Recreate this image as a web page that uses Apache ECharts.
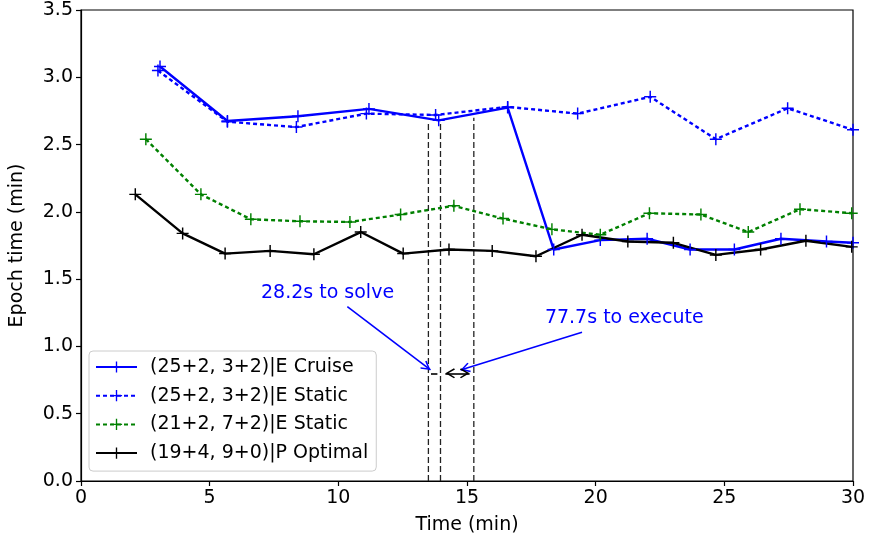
<!DOCTYPE html>
<html>
<head>
<meta charset="utf-8">
<script src="https://cdn.jsdelivr.net/npm/echarts@6/dist/echarts.min.js"></script>
<style>
  html, body { margin: 0; padding: 0; background: #fff; }
  #chart { width: 870px; height: 543px; }
</style>
</head>
<body>
<div id="chart"></div>
<script>
// values
const cruiseX = [3.07, 5.69, 8.43, 11.19, 13.9, 16.58, 18.37, 20.18, 22.0, 23.67, 25.39, 27.2, 28.97, 30.0];
const cruiseY = [3.08, 2.675, 2.71, 2.765, 2.68, 2.775, 1.72, 1.79, 1.80, 1.72, 1.72, 1.80, 1.78, 1.77];

const staticX = [2.99, 5.69, 8.37, 11.09, 13.78, 16.58, 19.3, 22.12, 24.67, 27.46, 30.0];
const staticY = [3.05, 2.67, 2.63, 2.73, 2.72, 2.78, 2.73, 2.855, 2.54, 2.77, 2.61];

const greenX = [2.52, 4.66, 6.6, 8.51, 10.45, 12.42, 14.49, 16.4, 18.3, 20.18, 22.09, 24.09, 25.93, 27.94, 29.95];
const greenY = [2.54, 2.13, 1.945, 1.93, 1.925, 1.98, 2.045, 1.95, 1.87, 1.83, 1.99, 1.98, 1.85, 2.02, 1.99];

const optimalX = [2.11, 3.95, 5.6, 7.35, 9.05, 10.87, 12.52, 14.3, 15.98, 17.68, 19.47, 21.25, 23.02, 24.67, 26.41, 28.17, 29.95];
const optimalY = [2.13, 1.84, 1.69, 1.71, 1.685, 1.85, 1.69, 1.72, 1.71, 1.67, 1.83, 1.78, 1.77, 1.68, 1.72, 1.785, 1.74];

const seriesNames = ['(25+2, 3+2)|E Cruise', '(25+2, 3+2)|E Static', '(21+2, 7+2)|E Static', '(19+4, 9+0)|P Optimal'];

// reconfiguration timing: solve 28.2 s, execute 77.7 s (in minutes)
const eventX = [13.5, 13.97, 15.265];
const eventTop = [2.66, 2.66, 2.70];
const arrowY = 0.8;
const solveText = '28.2s to solve';
const solveTextPos = [9.58, 1.40];
const solveArrowFrom = [10.35, 1.295];
const solveArrowTo = [13.58, 0.825];
const executeText = '77.7s to execute';
const executeTextPos = [21.11, 1.21];
const executeArrowFrom = [19.47, 1.105];
const executeArrowTo = [14.75, 0.825];
const solveSpan = [13.6, 13.85];
const executeSpan = [14.16, 15.1];

const xTicks = [0, 30, 5];
const yTicks = [0, 3.5, 0.5];

const FONT = 'DejaVu Sans';
const FS = 19;
const PLUS = 'path://M4.4,0h1.2v4.4h4.4v1.2h-4.4v4.4h-1.2v-4.4h-4.4v-1.2h4.4z';
// open arrow head, tip at the middle of its box so it lands on the end point
const CHEVRON = 'path://M5,0L10,8.6L8.8,9.6L5,3L1.2,9.6L0,8.6Z M5,-9.6L5.001,-9.6L5,-9.599Z';
const HEAD = [10, 19.2];

const zip = (xs, ys) => xs.map((x, i) => [x, ys[i]]);

function lineSeries(name, xs, ys, color, type) {
  return {
    name, type: 'line', data: zip(xs, ys),
    symbol: PLUS, symbolSize: 12, showSymbol: true,
    itemStyle: { color },
    lineStyle: { color, width: 2.4, type },
    emphasis: { disabled: true },
    animation: false, z: 3
  };
}

const series = [
  lineSeries(seriesNames[0], cruiseX, cruiseY, '#0000ff', 'solid'),
  lineSeries(seriesNames[1], staticX, staticY, '#0000ff', [4, 3]),
  lineSeries(seriesNames[2], greenX, greenY, '#008000', [4, 3]),
  lineSeries(seriesNames[3], optimalX, optimalY, '#000000', 'solid')
];

// dashed vertical markers
eventX.forEach((x, i) => {
  series.push({
    name: 'vline' + i, type: 'line', data: [[x, 0], [x, eventTop[i]]],
    symbol: 'none', lineStyle: { color: '#222', width: 1.3, type: [6, 3] },
    silent: true, animation: false, z: 2
  });
});

// annotation texts
series.push({
  name: 'notes', type: 'scatter', symbolSize: 1,
  itemStyle: { color: 'rgba(0,0,0,0)', opacity: 1 },
  data: [
    { name: solveText, value: solveTextPos },
    { name: executeText, value: executeTextPos }
  ],
  label: { show: true, position: 'inside', formatter: '{b}', color: '#0000ff', textBorderWidth: 0, fontFamily: FONT, fontSize: FS },
  silent: true, animation: false, z: 5
});

// blue arrows pointing at the timing gaps
series.push({
  name: 'arrowsBlue', type: 'line', data: [],
  markLine: {
    silent: true, animation: false,
    symbol: ['none', CHEVRON], symbolSize: HEAD,
    label: { show: false },
    lineStyle: { color: '#0000ff', width: 1.6, type: 'solid' },
    data: [
      [{ coord: solveArrowFrom }, { coord: solveArrowTo }],
      [{ coord: executeArrowFrom }, { coord: executeArrowTo }]
    ]
  }
});

// black arrows between the markers
series.push({
  name: 'arrowsBlack', type: 'line', data: [],
  markLine: {
    silent: true, animation: false,
    symbol: [CHEVRON, CHEVRON], symbolSize: HEAD,
    label: { show: false },
    lineStyle: { color: '#000', width: 1.6, type: 'solid' },
    data: [
      [{ coord: [solveSpan[0], arrowY], symbol: 'none' }, { coord: [solveSpan[1], arrowY], symbol: 'none' }],
      [{ coord: [executeSpan[0], arrowY] }, { coord: [executeSpan[1], arrowY] }]
    ]
  }
});

const chart = echarts.init(document.getElementById('chart'), null, { renderer: 'canvas' });
chart.setOption({
  backgroundColor: '#fff',
  animation: false,
  textStyle: { fontFamily: FONT },
  grid: { left: 80, right: 17, top: 10, bottom: 62, show: true, borderColor: '#000', borderWidth: 1.2, backgroundColor: 'transparent' },
  legend: {
    data: seriesNames,
    orient: 'vertical', left: 89, top: 351,
    padding: [6, 8, 8, 6],
    itemWidth: 41, itemHeight: 14, itemGap: 8.7,
    backgroundColor: 'rgba(255,255,255,0.8)',
    borderColor: '#ccc', borderWidth: 1, borderRadius: 4,
    textStyle: { color: '#000', fontFamily: FONT, fontSize: FS, lineHeight: 20, padding: [0, 0, 0, 8] }
  },
  xAxis: {
    type: 'value', min: xTicks[0], max: xTicks[1], interval: xTicks[2],
    name: 'Time (min)', nameLocation: 'middle', nameGap: 35,
    nameTextStyle: { color: '#000', fontFamily: FONT, fontSize: FS },
    axisLine: { lineStyle: { color: '#000', width: 1.2 } },
    axisTick: { inside: false, length: 5, lineStyle: { color: '#000', width: 1.2 } },
    axisLabel: { color: '#000', fontFamily: FONT, fontSize: FS, margin: 8 },
    splitLine: { show: false }
  },
  yAxis: {
    type: 'value', min: yTicks[0], max: yTicks[1], interval: yTicks[2],
    name: 'Epoch time (min)', nameLocation: 'middle', nameGap: 54, nameRotate: 90,
    nameTextStyle: { color: '#000', fontFamily: FONT, fontSize: FS },
    axisLine: { show: true, lineStyle: { color: '#000', width: 1.2 } },
    axisTick: { show: true, inside: false, length: 5, lineStyle: { color: '#000', width: 1.2 } },
    axisLabel: { color: '#000', fontFamily: FONT, fontSize: FS, margin: 8, formatter: v => v.toFixed(1) },
    splitLine: { show: false }
  },
  series
});
</script>
</body>
</html>
